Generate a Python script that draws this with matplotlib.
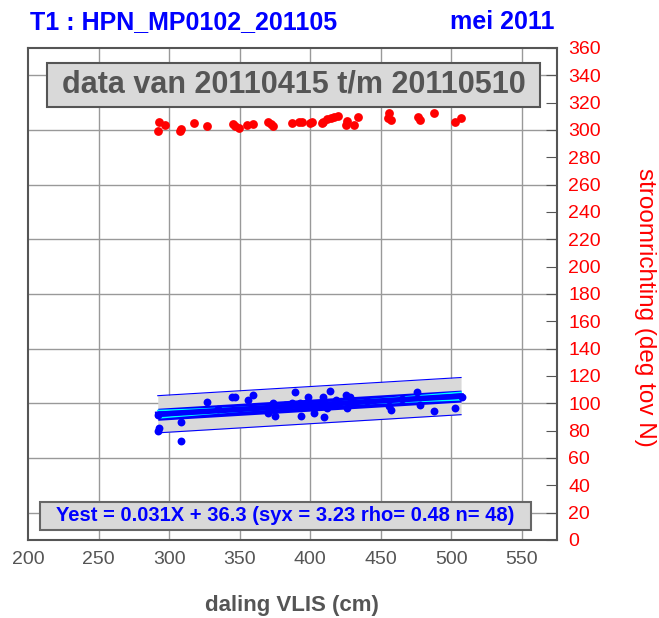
import numpy as np
import matplotlib
matplotlib.use("Agg")
import matplotlib.pyplot as plt
from matplotlib.patches import Rectangle

plt.rcParams['font.family'] = ['Liberation Sans', 'DejaVu Sans']

# stroomrichting (red) against daling VLIS
dir_x = [293.1, 297.4, 291.9, 308.4, 308.0, 317.4, 327.1, 345.0, 349.5, 355.0, 359.8,
         369.8, 374.0, 387.1, 394.3, 400.2, 401.4, 409.3, 412.1, 416.9, 408.6, 414.5,
         419.5, 425.9, 425.2, 431.2, 433.6, 456.2, 455.0, 457.4, 476.4, 477.6, 487.9,
         502.6, 506.9, 347.0, 372.0, 392.0]
dir_y = [305.6, 303.6, 299.2, 300.7, 299.6, 305.3, 303.1, 304.3, 301.6, 303.6, 304.3,
         305.6, 302.9, 305.0, 306.0, 304.8, 306.0, 306.0, 308.0, 309.7, 304.8, 308.5,
         310.0, 306.5, 303.6, 303.6, 309.7, 312.2, 309.0, 307.2, 309.7, 307.2, 312.6,
         305.6, 308.5, 303.0, 304.5, 305.5]

# second series (blue) with its fitted line
pt_x = [293.1, 292.0, 292.0, 308.6, 308.6, 327.1, 344.3, 346.7, 355.7, 359.8, 369.8,
        374.0, 374.8, 389.0, 387.1, 393.1, 393.8, 398.6, 403.0, 409.3, 409.8, 414.1,
        412.1, 418.1, 425.2, 425.9, 428.4, 457.4, 456.2, 475.7, 477.6, 487.9, 502.6,
        507.4, 335.0, 382.0, 440.0, 465.0]
pt_y = [81.7, 79.4, 91.4, 86.5, 72.4, 100.7, 104.4, 104.4, 102.4, 106.1, 92.7,
        100.5, 90.7, 108.5, 100.5, 100.5, 90.7, 104.8, 93.1, 104.8, 90.2, 109.2,
        96.3, 102.4, 106.1, 96.8, 104.4, 95.1, 98.0, 108.5, 98.8, 94.6, 96.8,
        104.8, 96.0, 98.5, 101.5, 103.0]

fit_x = [292, 507]
fit_y = [92.0, 105.3]
pred_half = 13.6
band_half = 4.4
conf_x = [292, 320, 350, 380, 400, 430, 460, 485, 507]
conf_half = [2.7, 2.0, 1.3, 0.9, 0.8, 1.1, 1.7, 2.2, 2.7]

x_ticks = [200, 250, 300, 350, 400, 450, 500, 550]
y_ticks = list(range(0, 361, 20))
grid_y = list(range(20, 341, 40))

fig = plt.figure(figsize=(6.59, 6.18), dpi=100)
ax = fig.add_axes([28 / 659, 78 / 618, 529 / 659, 492 / 618])
ax.set_xlim(200, 575)
ax.set_ylim(0, 360)

# grid
for gx in x_ticks[1:]:
    ax.axvline(gx, color='#999999', lw=1, zorder=1)
for gy in grid_y:
    ax.axhline(gy, color='#999999', lw=1, zorder=1)

fx = np.array(fit_x, dtype=float)
fy = np.array(fit_y, dtype=float)
ax.fill_between(fx, fy - pred_half, fy + pred_half, color='#d9d9d9', lw=0, zorder=2)
ax.plot(fx, fy + pred_half, color='blue', lw=0.8, zorder=3)
ax.plot(fx, fy - pred_half, color='blue', lw=0.8, zorder=3)
ax.fill_between(fx, fy - band_half, fy + band_half, color='blue', lw=0, zorder=3)

cx = np.array(conf_x, dtype=float)
cy = np.interp(cx, fx, fy)
ch = np.array(conf_half)
ax.plot(cx, cy + ch, color='cyan', lw=1.2, zorder=4)
ax.plot(cx, cy - ch, color='cyan', lw=1.2, zorder=4)
ax.plot(fx, fy, color='blue', lw=4, zorder=4)

ax.scatter(pt_x, pt_y, s=32, color='blue', lw=0, zorder=5)
ax.scatter(dir_x, dir_y, s=40, color='red', lw=0, zorder=5)

# axes styling
for sp in ax.spines.values():
    sp.set_color('#555555')
    sp.set_linewidth(1.5)
ax.set_xticks(x_ticks)
ax.tick_params(axis='x', length=0, pad=8, labelsize=14, labelcolor='#555555')
ax.yaxis.tick_right()
ax.set_yticks(y_ticks)
ax.tick_params(axis='y', direction='in', length=8, color='#555555', pad=8,
               labelsize=14, labelcolor='red')

# text boxes inside the plot
ax.add_patch(Rectangle((0.036, 0.880), 0.932, 0.090, transform=ax.transAxes,
                       facecolor='#d9d9d9', edgecolor='#555555', lw=1.5, zorder=6))
ax.text(0.502, 0.925, 'data van 20110415 t/m 20110510', transform=ax.transAxes,
        ha='center', va='center', fontsize=22, fontweight='bold', color='#555555', zorder=7)

ax.add_patch(Rectangle((0.023, 0.020), 0.928, 0.057, transform=ax.transAxes,
                       facecolor='#d9d9d9', edgecolor='#666666', lw=1.5, zorder=6))
ax.text(0.487, 0.049, 'Yest = 0.031X + 36.3 (syx = 3.23 rho= 0.48 n= 48)',
        transform=ax.transAxes, ha='center', va='center', fontsize=14.5,
        fontweight='bold', color='blue', zorder=7)

fig.text(30 / 659, 1 - 22 / 618, 'T1 : HPN_MP0102_201105', ha='left', va='center',
         fontsize=18, fontweight='bold', color='blue')
fig.text(555 / 659, 1 - 22 / 618, 'mei 2011', ha='right', va='center',
         fontsize=18, fontweight='bold', color='blue')
fig.text(292 / 659, 1 - 605 / 618, 'daling VLIS (cm)', ha='center', va='center',
         fontsize=16, fontweight='bold', color='#555555')
fig.text(645 / 659, 1 - 307 / 618, 'stroomrichting (deg tov N)', ha='center', va='center',
         rotation=-90, fontsize=17.5, color='red')

fig.savefig('out.png', dpi=100)
